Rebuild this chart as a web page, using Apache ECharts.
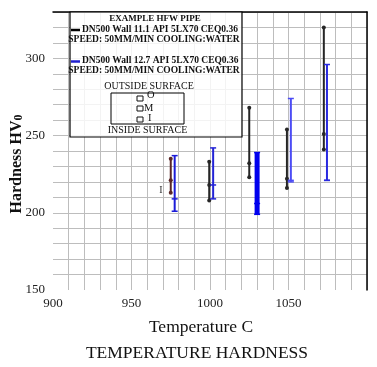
<!DOCTYPE html>
<html><head><meta charset="utf-8">
<script src="https://cdn.jsdelivr.net/npm/echarts@6/dist/echarts.min.js"></script>
<style>html,body{margin:0;padding:0;background:#fff}#c{width:377px;height:367px}</style>
</head><body><div id="c"></div>
<script>
// Series A: DN500 Wall 11.1 (black)
const tempsA = [975, 999.5, 1025, 1049, 1072.5];
const outerA = [235, 233, 268, 254, 320];
const midA   = [221, 218, 232, 222, 251];
const innerA = [213, 208, 223, 216, 241];
// Series B: DN500 Wall 12.7 (blue)
const tempsB = [977.5, 1002, 1030, 1051.5, 1074.5];
const outerB = [237, 242, 239, 274, 296];
const midB   = [209, 218, 206, 221, 221];
const innerB = [201, 209, 199, 220, 221];
// Axis ticks
const xTickLabels = [900, 950, 1000, 1050];
const yTickLabels = [150, 200, 250, 300];

const SERIF = "'Liberation Serif','Times New Roman',serif";
const colorsA = ['#5a2626', '#262626', '#262626', '#262626', '#262626'];
const colorsB = ['#1c1cd8', '#2323d6', '#0000ee', '#4c4cf5', '#2a2ae0'];
const widthsB = [2, 2, 5, 2, 2];

function build(temps, o, m, inn) {
  return temps.map((t, i) => [t, o[i], m[i], inn[i], i]);
}

function renderBlack(params, api) {
  const t = api.value(0), idx = api.value(4);
  const pO = api.coord([t, api.value(1)]);
  const pM = api.coord([t, api.value(2)]);
  const pI = api.coord([t, api.value(3)]);
  const c = colorsA[idx];
  const kids = [{type:'line', shape:{x1:pO[0], y1:pO[1], x2:pI[0], y2:pI[1]}, style:{stroke:c, lineWidth:2}}];
  [pO, pM, pI].forEach(p => kids.push({type:'circle', shape:{cx:p[0], cy:p[1], r:2}, style:{fill:c}}));
  return {type:'group', children:kids};
}
function renderBlue(params, api) {
  const t = api.value(0), idx = api.value(4);
  const pO = api.coord([t, api.value(1)]);
  const pM = api.coord([t, api.value(2)]);
  const pI = api.coord([t, api.value(3)]);
  const c = colorsB[idx], w = widthsB[idx];
  const kids = [{type:'line', shape:{x1:pO[0], y1:pO[1], x2:pI[0], y2:pI[1]}, style:{stroke:c, lineWidth:w}}];
  [pO, pM, pI].forEach(p => kids.push({type:'line', shape:{x1:p[0]-3, y1:p[1], x2:p[0]+3, y2:p[1]}, style:{stroke:c, lineWidth:1.5}}));
  return {type:'group', children:kids};
}

const chart = echarts.init(document.getElementById('c'));
const txt = (x, y, s, opt) => Object.assign({type:'text', x:x, y:y, z:20, style:Object.assign({text:s, fontFamily:SERIF, fontSize:9.5, fontWeight:'bold', fill:'#111', textAlign:'center', textVerticalAlign:'middle'}, opt||{})});

chart.setOption({
  animation:false,
  backgroundColor:'#fff',
  grid:{left:53, right:10, top:12, bottom:77},
  xAxis:[{
    type:'value', min:900, max:1100, interval:10,
    axisLine:{show:false}, axisTick:{show:false},
    axisLabel:{fontFamily:SERIF, fontSize:13, color:'#222', margin:7,
      formatter:v => xTickLabels.indexOf(v) >= 0 ? String(v) : ''},
    splitLine:{show:true, showMinLine:false, lineStyle:{color:'#bdbdbd', width:1}}
  },{
    type:'value', position:'top', min:900, max:1100,
    axisLine:{show:true, lineStyle:{color:'#000', width:1.5}},
    axisTick:{show:false}, axisLabel:{show:false}, splitLine:{show:false}
  }],
  yAxis:[{
    type:'value', min:150, max:330, interval:10,
    axisLine:{show:false}, axisTick:{show:false},
    axisLabel:{fontFamily:SERIF, fontSize:13, color:'#222', margin:8,
      formatter:v => yTickLabels.indexOf(v) >= 0 ? String(v) : ''},
    splitLine:{show:true, showMinLine:false, lineStyle:{color:'#bdbdbd', width:1}}
  },{
    type:'value', position:'right', min:150, max:330,
    axisLine:{show:true, lineStyle:{color:'#000', width:1.5}},
    axisTick:{show:false}, axisLabel:{show:false}, splitLine:{show:false}
  }],
  series:[
    {type:'custom', name:'DN500 Wall 11.1', xAxisIndex:0, yAxisIndex:0, renderItem:renderBlack, data:build(tempsA, outerA, midA, innerA), z:5},
    {type:'custom', name:'DN500 Wall 12.7', xAxisIndex:0, yAxisIndex:0, renderItem:renderBlue, data:build(tempsB, outerB, midB, innerB), z:5}
  ],
  graphic:[
    // legend box
    {type:'rect', z:15, shape:{x:70, y:12, width:172, height:125}, style:{fill:'rgba(255,255,255,0.82)', stroke:'#000', lineWidth:1.2}},
    txt(155, 19, 'EXAMPLE HFW PIPE', {fontSize:9}),
    {type:'line', z:20, shape:{x1:71, y1:30, x2:80, y2:30}, style:{stroke:'#000', lineWidth:2.5}},
    txt(82, 30, 'DN500 Wall 11.1 API 5LX70 CEQ0.36', {textAlign:'left'}),
    txt(154, 40, 'SPEED: 50MM/MIN COOLING:WATER'),
    {type:'line', z:20, shape:{x1:71, y1:61.5, x2:80, y2:61.5}, style:{stroke:'#2020d0', lineWidth:2.5}},
    txt(82, 61, 'DN500 Wall 12.7 API 5LX70 CEQ0.36', {textAlign:'left'}),
    txt(154, 71, 'SPEED: 50MM/MIN COOLING:WATER'),
    txt(149, 86, 'OUTSIDE SURFACE', {fontWeight:'normal', fontSize:10}),
    {type:'rect', z:18, shape:{x:111, y:93, width:73, height:31}, style:{fill:'rgba(255,255,255,0)', stroke:'#000', lineWidth:1}},
    {type:'rect', z:20, shape:{x:137, y:96, width:6, height:5}, style:{fill:'none', stroke:'#111', lineWidth:1}},
    txt(147, 95, 'O', {fontWeight:'normal', fontSize:10.5, textAlign:'left'}),
    {type:'rect', z:20, shape:{x:137, y:106, width:6, height:5}, style:{fill:'none', stroke:'#111', lineWidth:1}},
    txt(144, 108.5, 'M', {fontWeight:'normal', fontSize:10.5, textAlign:'left'}),
    {type:'rect', z:20, shape:{x:137, y:117, width:6, height:5}, style:{fill:'none', stroke:'#111', lineWidth:1}},
    txt(148, 118, 'I', {fontWeight:'normal', fontSize:10.5, textAlign:'left'}),
    txt(147.5, 130, 'INSIDE SURFACE', {fontWeight:'normal', fontSize:10}),
    // stray "I" marker near first group
    txt(161, 190, 'I', {fontWeight:'normal', fontSize:10, fill:'#333'}),
    // axis titles
    {type:'text', z:20, x:17, y:164, rotation:Math.PI/2, style:{text:'{a|Hardness HV}{b|0}', fontFamily:SERIF, textAlign:'center', textVerticalAlign:'middle',
      rich:{a:{fontFamily:SERIF, fontSize:16, fontWeight:'bold', fill:'#111'}, b:{fontFamily:SERIF, fontSize:12, fontWeight:'bold', fill:'#111', padding:[4,0,0,0]}}}},
    txt(201, 327, 'Temperature C', {fontWeight:'normal', fontSize:17.5}),
    txt(197, 353, 'TEMPERATURE HARDNESS', {fontWeight:'normal', fontSize:17.5})
  ]
});
</script></body></html>
